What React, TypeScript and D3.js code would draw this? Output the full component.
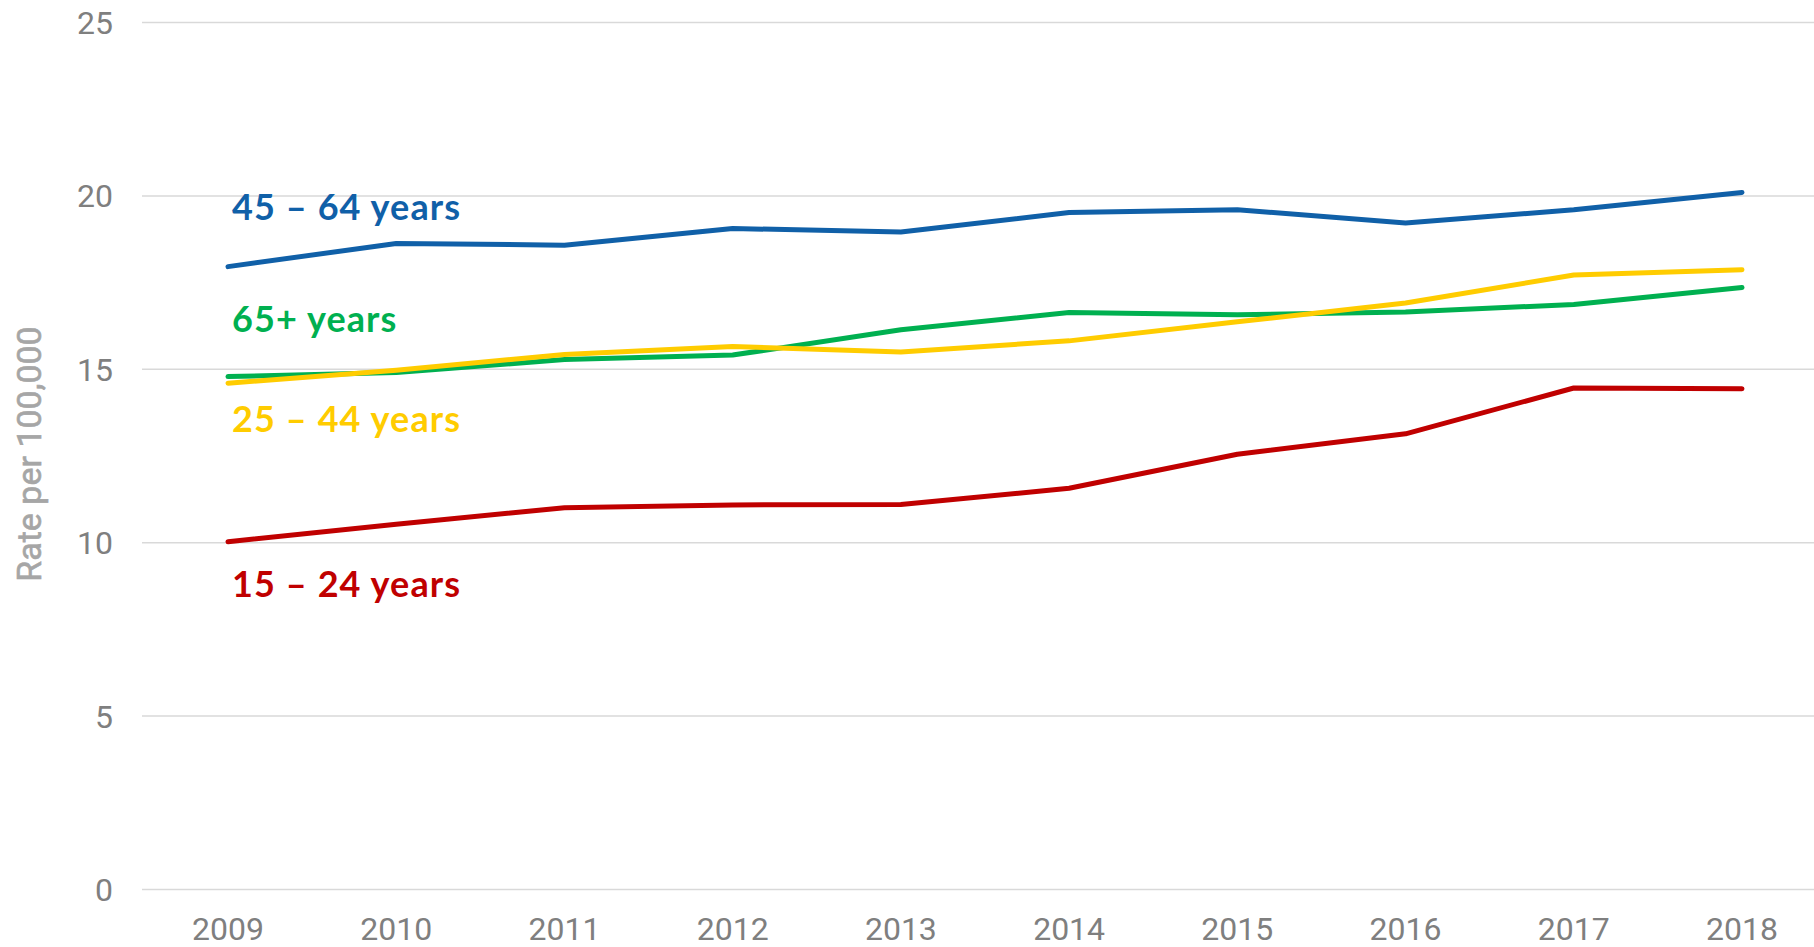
import React from "react";
import * as d3 from "d3";

const years = ["2009","2010","2011","2012","2013","2014","2015","2016","2017","2018"];
const age45_64 = [17.96, 18.63, 18.58, 19.06, 18.96, 19.52, 19.6, 19.22, 19.6, 20.1];
const age25_44 = [14.6, 14.97, 15.43, 15.66, 15.5, 15.82, 16.37, 16.91, 17.72, 17.87];
const age65plus = [14.79, 14.91, 15.28, 15.41, 16.14, 16.64, 16.57, 16.65, 16.87, 17.36];
const age15_24 = [10.03, 10.53, 11.01, 11.09, 11.1, 11.57, 12.55, 13.14, 14.46, 14.44];
const yTicks = [0, 5, 10, 15, 20, 25];

const seriesNames = ["45 – 64 years", "65+ years", "25 – 44 years", "15 – 24 years"];
const seriesValues = [age45_64, age65plus, age25_44, age15_24];
const seriesColors = ["#1060A8", "#00B050", "#FFCC00", "#C00000"];
const labelY = [207, 319, 419, 584];

const W = 1814, H = 947;
const plotLeft = 142, plotRight = 1814, plotTop = 22.5, plotBottom = 889.5;

export default function App() {
  const x = d3.scalePoint<string>().domain(years).range([228, 1742]);
  const y = d3.scaleLinear().domain([0, 25]).range([plotBottom, plotTop]);
  const line = d3.line<number>().x((_, i) => x(years[i]) as number).y(d => y(d));
  const font = "Roboto, 'Noto Sans', sans-serif";
  return (
    <svg width={W} height={H} style={{ position: "absolute", left: 0, top: 0, background: "#fff" }}>
      {yTicks.map(t => (
        <g key={t}>
          <line x1={plotLeft} x2={plotRight} y1={y(t)} y2={y(t)} stroke="#D9D9D9" strokeWidth={1.5} />
          <text x={113} y={y(t)} dy="0.36em" textAnchor="end" fontFamily={font} fontSize={32} fill="#7F7F7F">{t}</text>
        </g>
      ))}
      {years.map(yr => (
        <text key={yr} x={x(yr) as number} y={940} textAnchor="middle" fontFamily={font} fontSize={32} fill="#7F7F7F">{yr}</text>
      ))}
      <text transform={`translate(29,454) rotate(-90)`} textAnchor="middle" dy="0.36em" fontFamily={font} fontSize={34} fill="#A6A6A6" stroke="#A6A6A6" strokeWidth={0.6}>Rate per 100,000</text>
      {seriesValues.map((vals, i) => (
        <path key={i} d={line(vals) as string} fill="none" stroke={seriesColors[i]} strokeWidth={5} strokeLinecap="round" strokeLinejoin="round" />
      ))}
      {seriesNames.map((n, i) => (
        <text key={n} x={232} y={labelY[i]} dy="0.36em" fontFamily="Lato, 'Open Sans', sans-serif" fontWeight="bold" fontSize={36} letterSpacing={1.1} fill={seriesColors[i]}>{n}</text>
      ))}
    </svg>
  );
}
